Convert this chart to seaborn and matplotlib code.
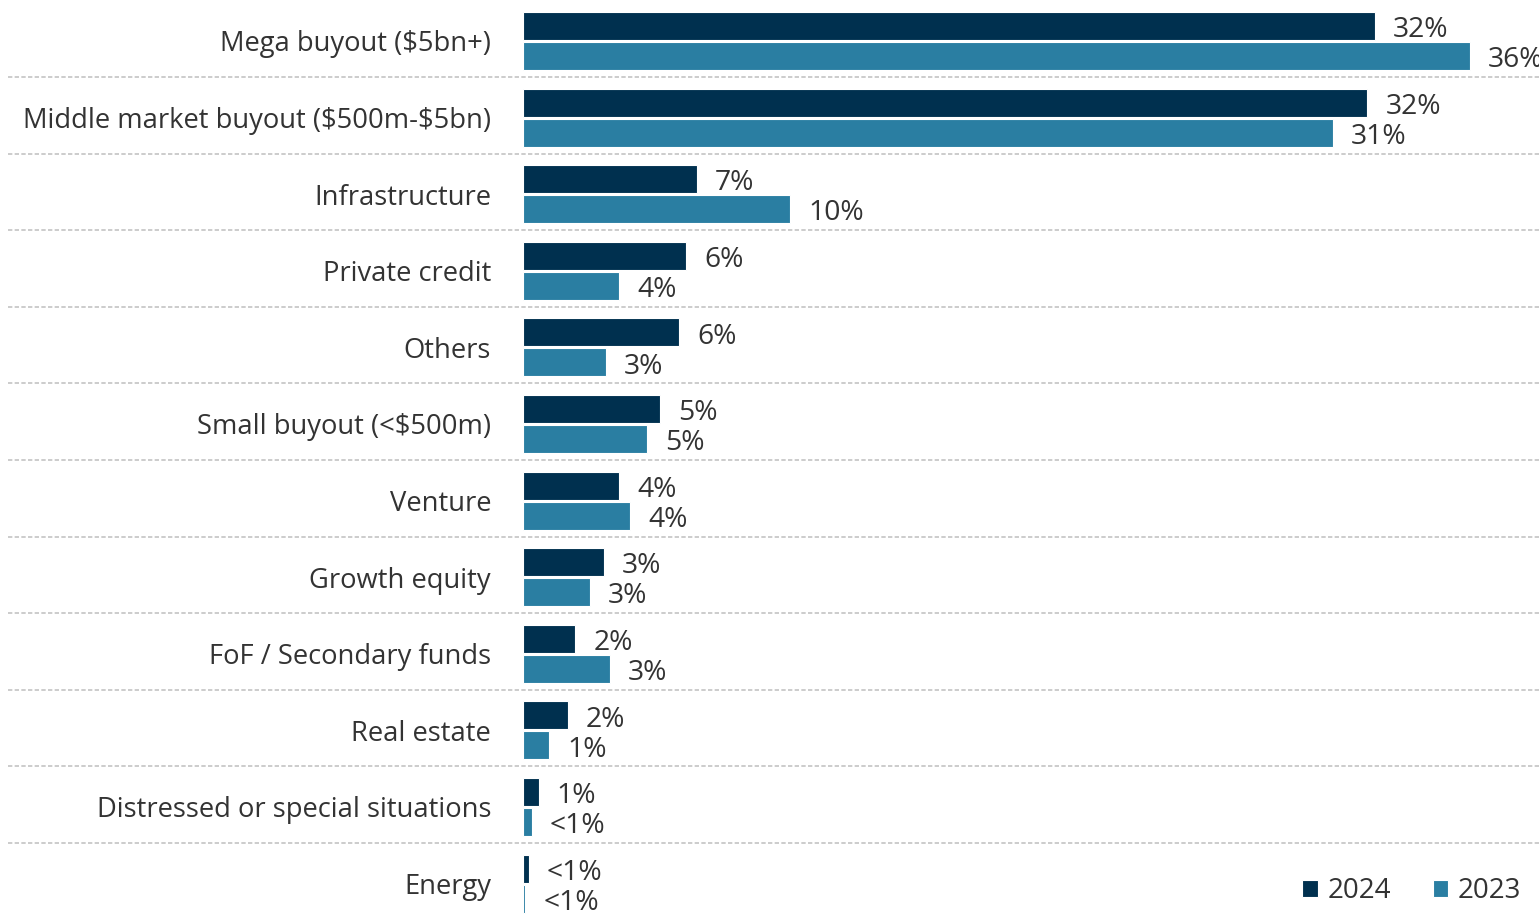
import matplotlib
matplotlib.use("Agg")
import matplotlib.pyplot as plt
from matplotlib.transforms import blended_transform_factory
from matplotlib.lines import Line2D
import seaborn as sns
import pandas as pd

# Share of respondents by strategy, per survey year (%)
categories = [
    "Mega buyout ($5bn+)",
    "Middle market buyout ($500m-$5bn)",
    "Infrastructure",
    "Private credit",
    "Others",
    "Small buyout (<$500m)",
    "Venture",
    "Growth equity",
    "FoF / Secondary funds",
    "Real estate",
    "Distressed or special situations",
    "Energy",
]
values_2024 = [32.4, 32.1, 6.6, 6.2, 5.93, 5.2, 3.65, 3.08, 1.98, 1.71, 0.6, 0.23]
values_2023 = [36.0, 30.8, 10.15, 3.65, 3.16, 4.7, 4.07, 2.55, 3.3, 0.99, 0.34, 0.08]
years = ["2024", "2023"]
colors = {"2024": "#00304f", "2023": "#2a7ea2"}

TEXT = "#333333"
FONT = ["Open Sans", "DejaVu Sans"]
FS_CAT = 19.7
FS_VAL = 20.3

df = pd.DataFrame({
    "category": categories * 2,
    "year": ["2024"] * len(categories) + ["2023"] * len(categories),
    "value": values_2024 + values_2023,
})


def pct_label(v):
    return "<1%" if v < 0.5 else f"{round(v)}%"


sns.set_theme(style="white")
plt.rcParams["font.family"] = FONT
plt.rcParams["text.parse_math"] = False  # dollar signs are literal text

W, H = 1539, 914
fig = plt.figure(figsize=(W / 100, H / 100), dpi=100)
ax = fig.add_axes([523 / W, 0, 1 - 523 / W, 1])

sns.barplot(
    data=df, y="category", x="value", hue="year",
    order=categories, hue_order=years, palette=colors, saturation=1,
    orient="h", width=0.783, gap=0.07,
    edgecolor="white", linewidth=0.8, ax=ax, legend=True,
)

ax.set_xlim(0, 38.63)
ax.set_ylim(11.397, -0.535)
ax.set_xlabel("")
ax.set_ylabel("")
ax.set_xticks([])
for s in ax.spines.values():
    s.set_visible(False)
ax.tick_params(axis="y", length=0, pad=23, labelsize=FS_CAT, labelcolor=TEXT)
for t in ax.get_yticklabels():
    t.set_fontfamily(FONT)

# value labels at the end of each bar
for container, year in zip(ax.containers, years):
    for bar in container:
        v = bar.get_width()
        ax.annotate(
            pct_label(v),
            xy=(v, bar.get_y() + bar.get_height() / 2),
            xytext=(13, -3), textcoords="offset points",
            ha="left", va="center", fontsize=FS_VAL, color=TEXT,
            annotation_clip=False, clip_on=False,
        )

# dashed separators between categories, running under the labels too
trans = blended_transform_factory(fig.transFigure, ax.transData)
for i in range(len(categories) - 1):
    y = i + 0.47
    ax.add_line(Line2D([8 / W, 1], [y, y], transform=trans, color="#c4c4c4",
                       lw=1.2, linestyle=(0, (2.6, 1.4)), clip_on=False, zorder=0))

handles, labels = ax.get_legend_handles_labels()
ax.legend_.remove()
fig.legend(
    handles, labels, loc="center right",
    bbox_to_anchor=(1521 / W, 1 - 891 / H), ncol=2, frameon=False,
    fontsize=20, labelcolor=TEXT, handlelength=0.55, handleheight=0.55,
    handletextpad=0.35, columnspacing=1.5, borderpad=0, borderaxespad=0,
)

fig.savefig("out.png", dpi=100)
